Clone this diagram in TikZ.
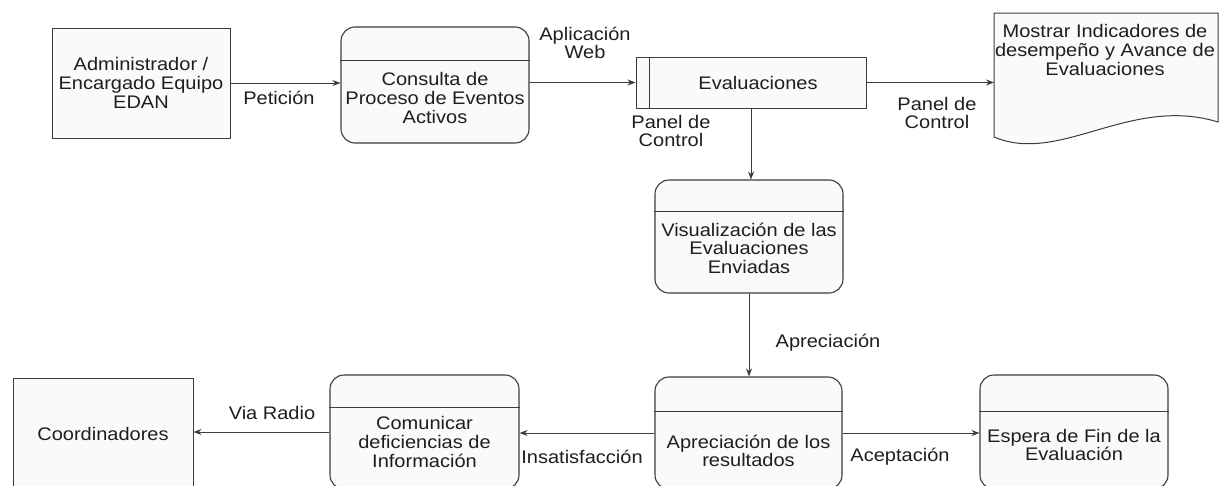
\documentclass[tikz,border=0pt]{standalone}
\usepackage{fontspec}
\setmainfont{Liberation Sans}[FakeStretch=1.1]
\usepackage{tikz}
\usetikzlibrary{positioning,arrows.meta,calc}
\definecolor{linegray}{RGB}{60,60,60}
\definecolor{boxfill}{RGB}{250,250,250}
\definecolor{textgray}{RGB}{30,30,30}

\begin{document}
\begin{tikzpicture}[x=1pt, y=-1pt,
    every node/.style={font=\fontsize{18.2}{18.6}\selectfont, text=textgray, align=center, inner sep=0pt},
    entity/.style={draw=linegray, line width=1pt, fill=boxfill},
    procbox/.style={draw=linegray, line width=1.1pt, fill=boxfill, rounded corners=14pt},
    flow/.style={draw=linegray, line width=0.9pt, -{Stealth[length=8pt, width=6pt]}}]
  \useasboundingbox (0,0) rectangle (1222,485);

  % External entities
  \node[entity, minimum width=178pt, minimum height=110pt] (admin) at (141,83)
    {Administrador /\\Encargado Equipo\\EDAN};
  \node[entity, minimum width=180pt, minimum height=111pt] (coor) at (103,433.5)
    {Coordinadores};

  % Processes
  \node[procbox, minimum width=188pt, minimum height=116pt] (cons) at (435,85) {};
  \node[procbox, minimum width=188pt, minimum height=113pt] (visu) at (749,236.5) {};
  \node[procbox, minimum width=187pt, minimum height=112pt] (apre) at (748.5,433) {};
  \node[procbox, minimum width=188pt, minimum height=114pt] (espe) at (1074,432) {};
  \node[procbox, minimum width=189pt, minimum height=114pt] (comu) at (424.5,432) {};

  % Header lines of the processes
  \foreach \b/\h in {cons/34, visu/32, apre/35, espe/37, comu/33}
    \draw[linegray, line width=1pt] ($(\b.north west)+(0,\h)$) -- ($(\b.north east)+(0,\h)$);

  % Process texts
  \node (consT) at (435,98) {Consulta de\\Proceso de Eventos\\Activos};
  \node (visuT) at (749,248) {Visualización de las\\Evaluaciones\\Enviadas};
  \node (apreT) at (748.5,451) {Apreciación de los\\resultados};
  \node (espeT) at (1074,445) {Espera de Fin de la\\Evaluación};
  \node (comuT) at (424.5,442) {Comunicar\\deficiencias de\\Información};

  % Data store
  \node[entity, minimum width=230pt, minimum height=51pt] (eval) at (751,82.5) {\hspace*{14pt}Evaluaciones};
  \draw[linegray, line width=1pt] ($(eval.north west)+(14,0)$) -- ($(eval.south west)+(14,0)$);

  % Document
  \coordinate (docL) at (994,86);
  \draw[entity] (994,13) -- (1218,13) -- (1218,122)
    .. controls (1130,95) and (1060,165) .. (994,137) -- cycle;
  \node (doc) at (1105,50) {Mostrar Indicadores de\\desempeño y Avance de\\Evaluaciones};

  % Flows
  \draw[flow] (admin.east) -- (admin.east -| cons.west);
  \draw[flow] (eval.west -| cons.east) -- (eval.west);
  \draw[flow] (eval.east) -- (eval.east -| docL);
  \draw[flow] (eval.south) -- (eval.south |- visu.north);
  \draw[flow] (visu.south) -- (visu.south |- apre.north);
  \draw[flow] (apre.east) -- (apre.east -| espe.west);
  \draw[flow] (apre.west) -- (apre.west -| comu.east);
  \draw[flow] (comu.west) -- (comu.west -| coor.east);

  % Flow labels
  \node (lPet) at (279,98) {Petición};
  \node (lApl) at (585,43) {Aplicación\\Web};
  \node (lPan1) at (671,131) {Panel de\\Control};
  \node (lPan2) at (937,113) {Panel de\\Control};
  \node (lApr) at (828,343) {Apreciación};
  \node (lRad) at (272,413) {Via Radio};
  \node (lIns) at (582,457) {Insatisfacción};
  \node (lAce) at (900,457) {Aceptación};
\end{tikzpicture}
\end{document}
